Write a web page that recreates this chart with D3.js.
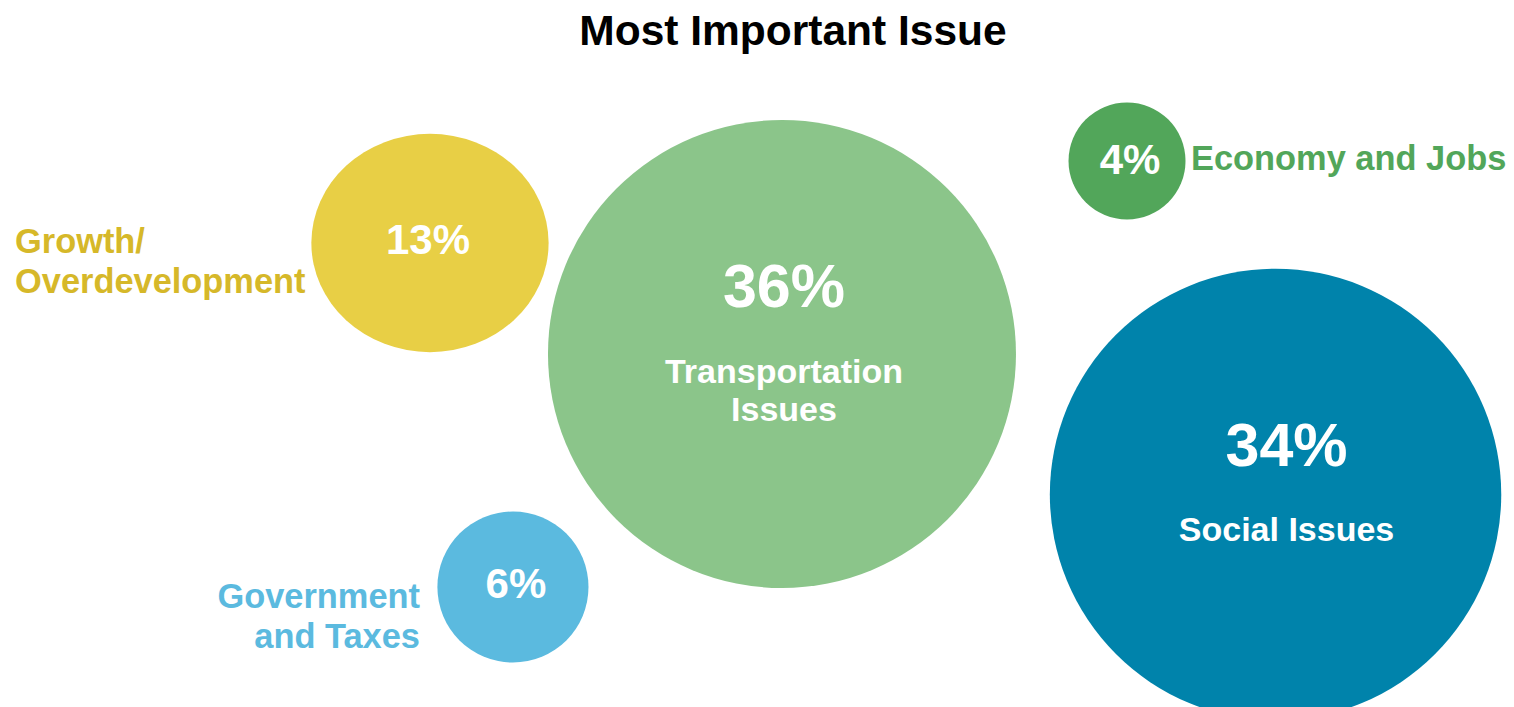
<!DOCTYPE html>
<html>
<head>
<meta charset="utf-8">
<script src="https://cdn.jsdelivr.net/npm/d3@7"></script>
<style>
  html, body { margin: 0; padding: 0; background: #fff; }
  svg { display: block; }
  text { font-family: "Liberation Sans", Arial, sans-serif; font-weight: bold; }
</style>
</head>
<body>
<svg id="chart" width="1514" height="707"></svg>
<script>
// ---- data ----
const categories = ["Transportation Issues", "Social Issues", "Growth/Overdevelopment", "Government and Taxes", "Economy and Jobs"];
const values = [36, 34, 13, 6, 4];
const labelLines = [["Transportation", "Issues"], ["Social Issues"], ["Growth/", "Overdevelopment"], ["Government", "and Taxes"], ["Economy and Jobs"]];
const title = "Most Important Issue";

// ---- layout / style (not data) ----
const W = 1514, H = 707;
const fills = ["#8BC58A", "#0083AB", "#E8CF45", "#5BBADF", "#52A65A"];
const labelColors = ["#ffffff", "#ffffff", "#D6B829", "#5BBADF", "#52A65A"];
const layout = [
  { fx: 0.5165, fy: 0.5007, sx: 1, sy: 1, mode: "inside", pctDy: -47, pctSize: 61, labDy: 29, tdx: 2 },
  { fx: 0.8425, fy: 0.6994, sx: 1, sy: 1, mode: "inside", pctDy: -28, pctSize: 61, labDy: 47, tdx: 11 },
  { fx: 0.2840, fy: 0.3437, sx: 0.964, sy: 0.887, mode: "left", pctDy: 11, pctSize: 42, labX: 15, labY: 253, anchor: "start", tdx: -2 },
  { fx: 0.3388, fy: 0.8303, sx: 1, sy: 1, mode: "left", pctDy: 11, pctSize: 42, labX: 420, labY: 608, anchor: "end", tdx: 3 },
  { fx: 0.7444, fy: 0.2277, sx: 1, sy: 1, mode: "right", pctDy: 13, pctSize: 42, labX: 1191, labY: 170, anchor: "start", tdx: 3 }
];

const x = d3.scaleLinear().domain([0, 1]).range([0, W]);
const y = d3.scaleLinear().domain([0, 1]).range([0, H]);
const r = d3.scalePow().exponent(0.631).domain([0, d3.max(values)]).range([0, 234]);

const svg = d3.select("#chart");

svg.append("text")
  .attr("x", 793).attr("y", 45)
  .attr("text-anchor", "middle")
  .attr("font-size", 42.5)
  .attr("fill", "#000")
  .text(title);

const nodes = categories.map((c, i) => ({ name: c, value: values[i], lines: labelLines[i], fill: fills[i], lc: labelColors[i], ...layout[i] }));

const g = svg.selectAll("g.bubble").data(nodes).join("g").attr("class", "bubble");

g.append("ellipse")
  .attr("cx", d => x(d.fx))
  .attr("cy", d => y(d.fy))
  .attr("rx", d => r(d.value) * d.sx)
  .attr("ry", d => r(d.value) * d.sy)
  .attr("fill", d => d.fill);

g.append("text")
  .attr("x", d => x(d.fx) + d.tdx)
  .attr("y", d => y(d.fy) + d.pctDy)
  .attr("text-anchor", "middle")
  .attr("font-size", d => d.pctSize)
  .attr("fill", "#fff")
  .text(d => d.value + "%");

// inside labels
g.filter(d => d.mode === "inside").each(function(d) {
  const t = d3.select(this).append("text")
    .attr("text-anchor", "middle")
    .attr("font-size", 34)
    .attr("fill", d.lc);
  d.lines.forEach((ln, k) => {
    t.append("tspan")
      .attr("x", x(d.fx) + d.tdx)
      .attr("y", y(d.fy) + d.labDy + k * 38)
      .text(ln);
  });
});

// outside labels
g.filter(d => d.mode !== "inside").each(function(d) {
  const t = d3.select(this).append("text")
    .attr("text-anchor", d.anchor)
    .attr("font-size", 34.4)
    .attr("fill", d.lc);
  d.lines.forEach((ln, k) => {
    t.append("tspan")
      .attr("x", d.labX)
      .attr("y", d.labY + k * 39.5)
      .text(ln);
  });
});
</script>
</body>
</html>
